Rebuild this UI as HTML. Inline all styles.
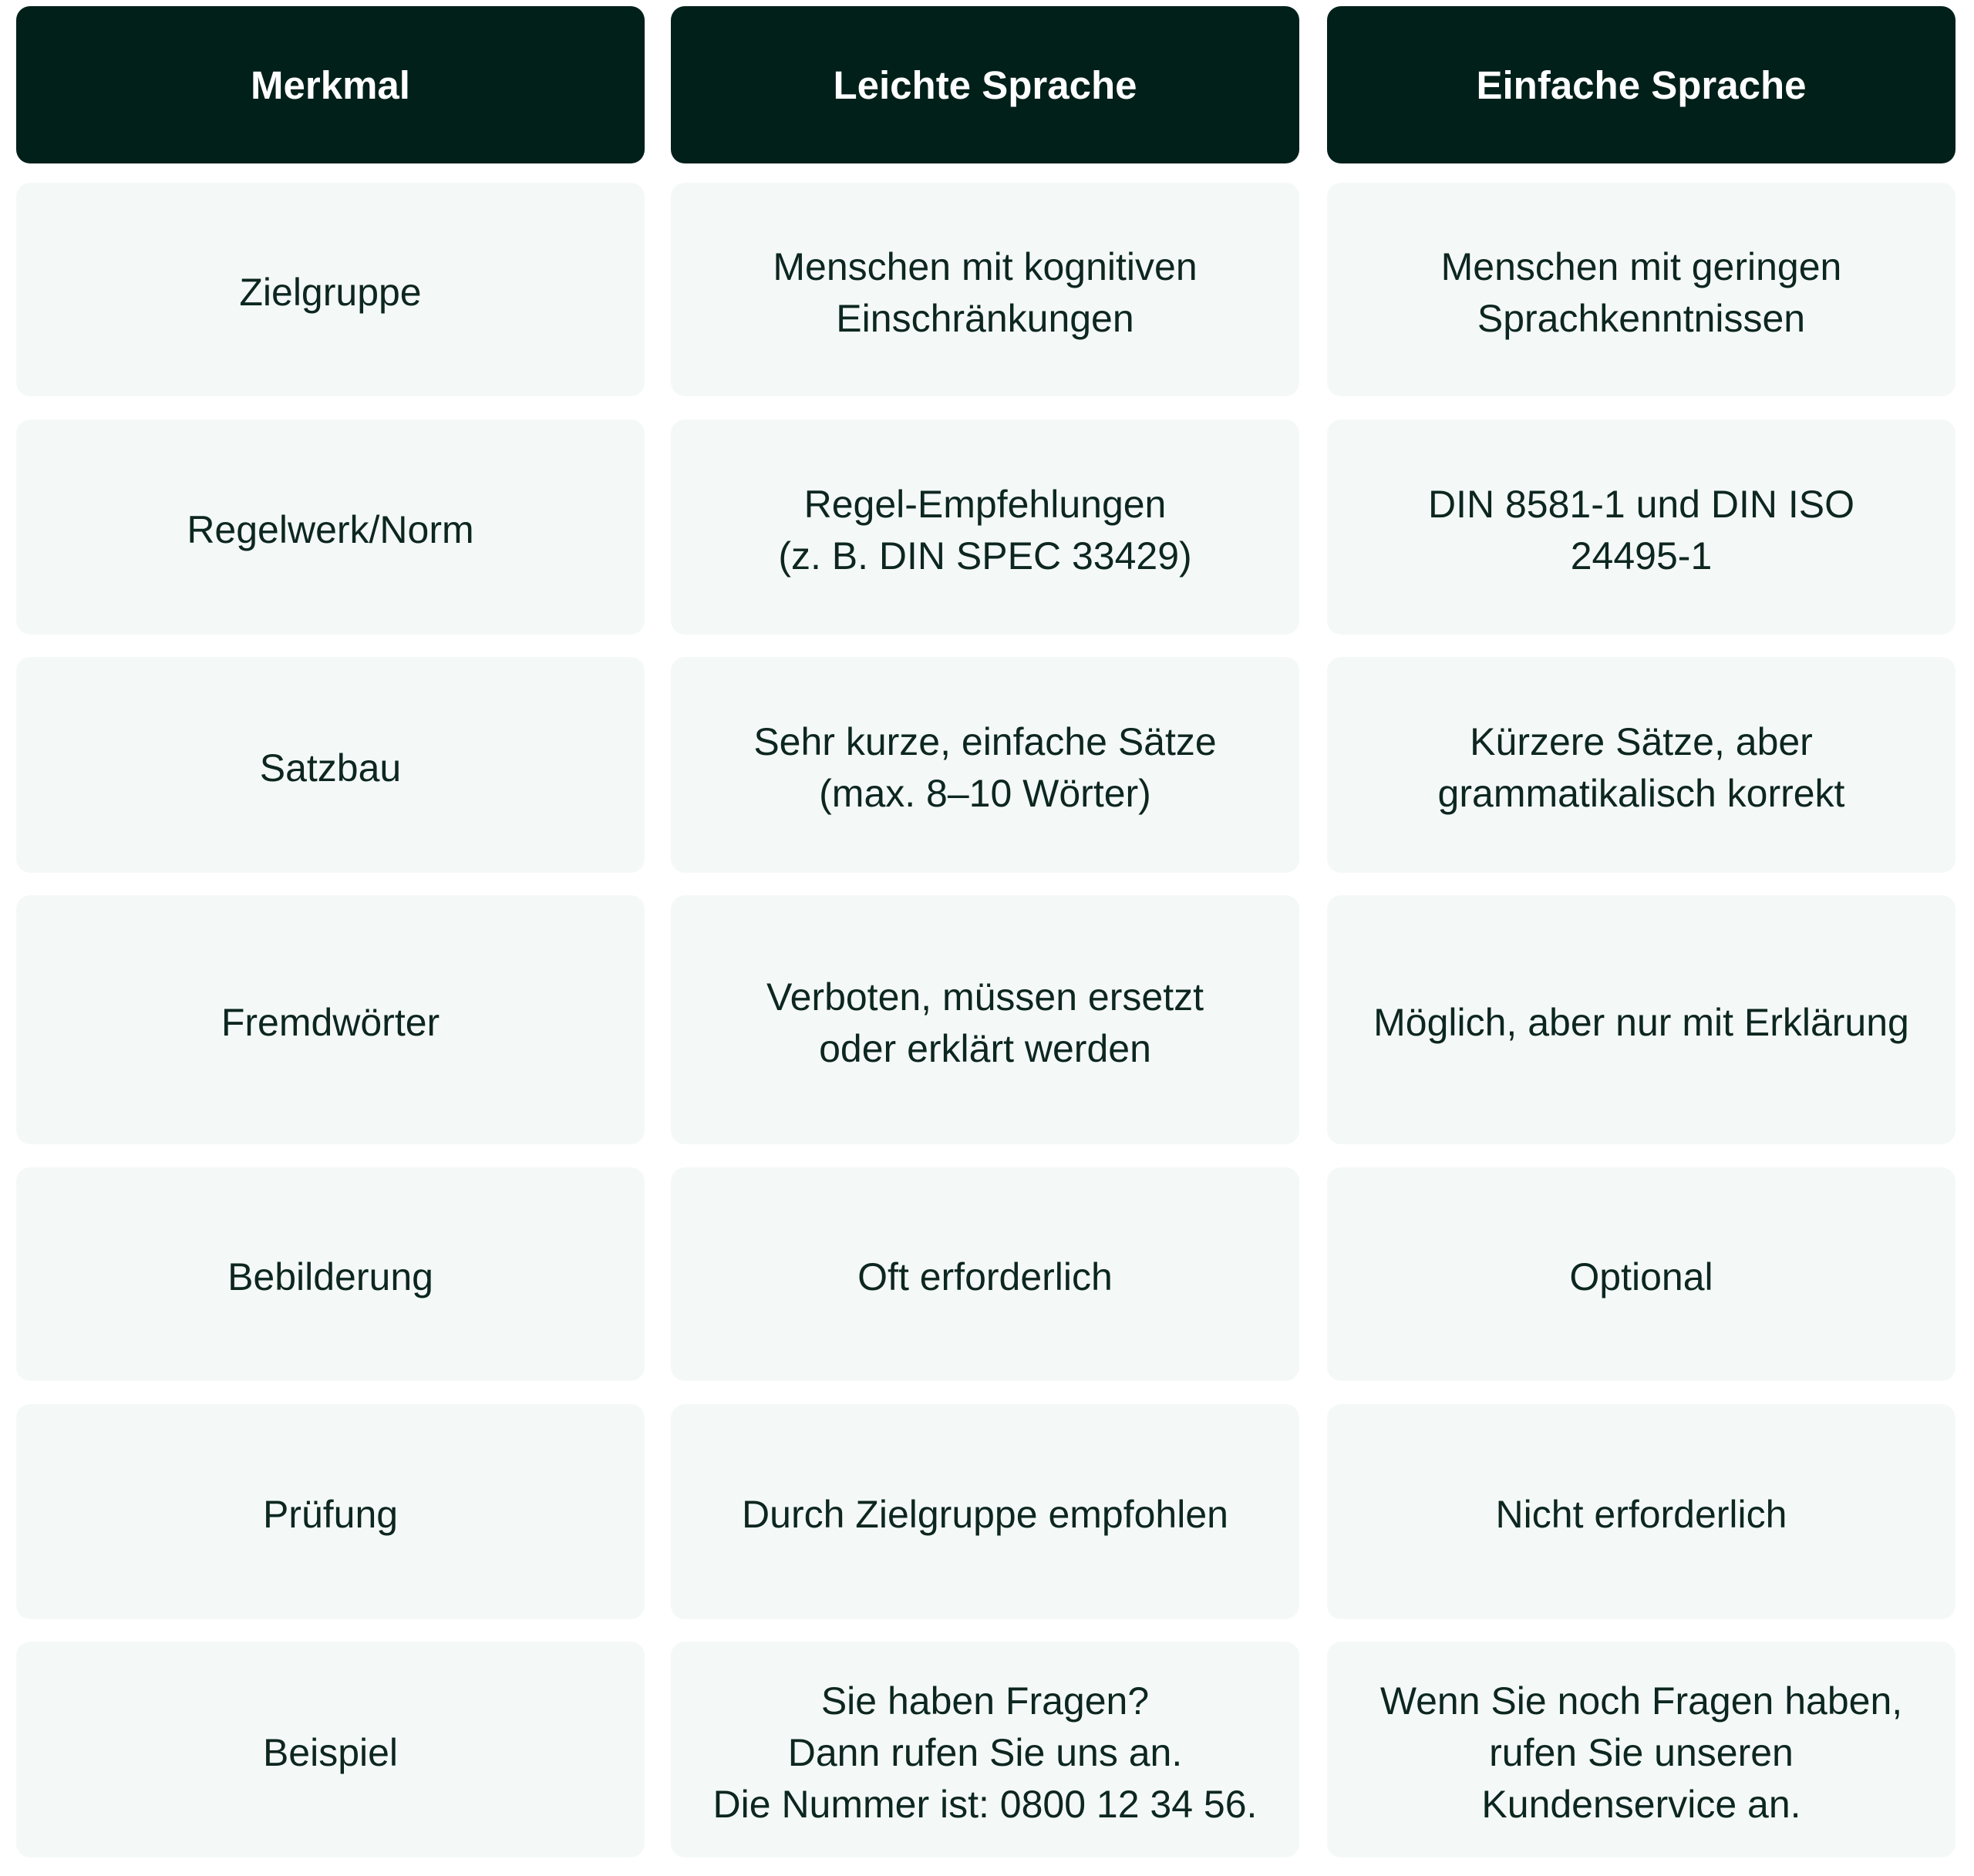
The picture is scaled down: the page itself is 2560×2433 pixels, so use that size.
<!DOCTYPE html>
<html><head><meta charset="utf-8"><style>
html,body{margin:0;padding:0;background:#fff;}
body{width:2560px;height:2433px;position:relative;overflow:hidden;font-family:"Liberation Sans",sans-serif;}
.c{position:absolute;width:815px;border-radius:18px;background:#f4f9f7;color:#0d2620;display:flex;align-items:center;justify-content:center;text-align:center;font-size:50px;line-height:67px;padding-top:8px;box-sizing:border-box;}
.h{background:#01201a;color:#fff;font-weight:bold;font-size:51px;padding-top:0;}
</style></head><body>
<div class="c h" style="left:21px;top:8px;height:204px">Merkmal</div>
<div class="c h" style="left:870px;top:8px;height:204px">Leichte Sprache</div>
<div class="c h" style="left:1721px;top:8px;height:204px">Einfache Sprache</div>

<div class="c" style="left:21px;top:237px;height:277px">Zielgruppe</div>
<div class="c" style="left:870px;top:237px;height:277px">Menschen mit kognitiven<br>Einschränkungen</div>
<div class="c" style="left:1721px;top:237px;height:277px">Menschen mit geringen<br>Sprachkenntnissen</div>

<div class="c" style="left:21px;top:544px;height:279px">Regelwerk/Norm</div>
<div class="c" style="left:870px;top:544px;height:279px">Regel-Empfehlungen<br>(z. B. DIN SPEC 33429)</div>
<div class="c" style="left:1721px;top:544px;height:279px">DIN 8581-1 und DIN ISO<br>24495-1</div>

<div class="c" style="left:21px;top:852px;height:280px">Satzbau</div>
<div class="c" style="left:870px;top:852px;height:280px">Sehr kurze, einfache Sätze<br>(max. 8–10 Wörter)</div>
<div class="c" style="left:1721px;top:852px;height:280px">Kürzere Sätze, aber<br>grammatikalisch korrekt</div>

<div class="c" style="left:21px;top:1161px;height:323px">Fremdwörter</div>
<div class="c" style="left:870px;top:1161px;height:323px">Verboten, müssen ersetzt<br>oder erklärt werden</div>
<div class="c" style="left:1721px;top:1161px;height:323px">Möglich, aber nur mit Erklärung</div>

<div class="c" style="left:21px;top:1514px;height:277px">Bebilderung</div>
<div class="c" style="left:870px;top:1514px;height:277px">Oft erforderlich</div>
<div class="c" style="left:1721px;top:1514px;height:277px">Optional</div>

<div class="c" style="left:21px;top:1821px;height:279px">Prüfung</div>
<div class="c" style="left:870px;top:1821px;height:279px">Durch Zielgruppe empfohlen</div>
<div class="c" style="left:1721px;top:1821px;height:279px">Nicht erforderlich</div>

<div class="c" style="left:21px;top:2129px;height:280px">Beispiel</div>
<div class="c" style="left:870px;top:2129px;height:280px">Sie haben Fragen?<br>Dann rufen Sie uns an.<br>Die Nummer ist: 0800 12 34 56.</div>
<div class="c" style="left:1721px;top:2129px;height:280px">Wenn Sie noch Fragen haben,<br>rufen Sie unseren<br>Kundenservice an.</div>
</body></html>
